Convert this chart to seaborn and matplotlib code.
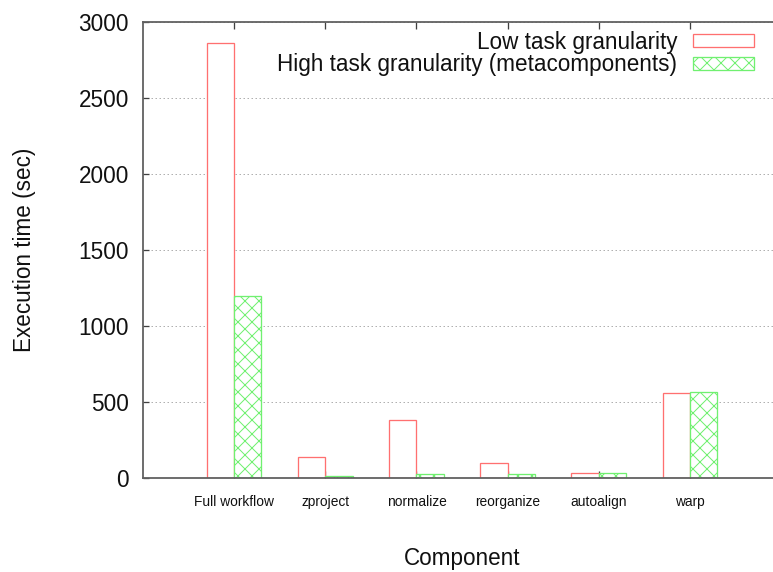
import matplotlib
matplotlib.use("Agg")
import matplotlib.pyplot as plt
import seaborn as sns
import pandas as pd

components = ["Full workflow", "zproject", "normalize", "reorganize", "autoalign", "warp"]
low_gran = [2865, 137, 381, 97, 33, 559]
high_gran = [1200, 15, 29, 29, 35, 568]
series_names = ["Low task granularity", "High task granularity (metacomponents)"]
yticks = [0, 500, 1000, 1500, 2000, 2500, 3000]

df = pd.DataFrame({
    "Component": components * 2,
    "Time": low_gran + high_gran,
    "Series": [series_names[0]] * len(components) + [series_names[1]] * len(components),
})

sns.set_theme(style="white")
plt.rcParams["font.family"] = ["Liberation Sans", "DejaVu Sans"]

W, H, DPI = 774, 572, 84.0
def pt(px):
    return px * 72.0 / DPI

plt.rcParams["hatch.linewidth"] = pt(1.0)

fig = plt.figure(figsize=(W / DPI, H / DPI), dpi=DPI)
ax_left, ax_right, ax_top, ax_bot = 143, 781, 22, 478
ax = fig.add_axes([ax_left / W, 1 - ax_bot / H, (ax_right - ax_left) / W, (ax_bot - ax_top) / H])

red = "#ff7070"
green = "#70f070"
sns.barplot(data=df, x="Component", y="Time", hue="Series", order=components,
            hue_order=series_names, width=0.6, ax=ax, errorbar=None,
            palette=[red, green], legend=False)

for cont, col, hatch in zip(ax.containers, [red, green], [None, "xx"]):
    for p in cont:
        p.set_facecolor("white")
        p.set_edgecolor(col)
        p.set_linewidth(pt(1.3))
        p.set_zorder(3)
        if hatch:
            p.set_hatch(hatch)

ax.set_xlim(-1, 6)
ax.set_ylim(0, 3000)
ax.set_yticks(yticks)
ax.set_yticklabels([str(v) for v in yticks])
ax.yaxis.grid(True, color="#b0b0b0", linestyle=(0, (1.5, 2.5)), linewidth=pt(1.0))
ax.set_axisbelow(True)

for s in ax.spines.values():
    s.set_visible(True)
    s.set_color("#606060")
    s.set_linewidth(pt(1.8))
    s.set_zorder(4)

ax.tick_params(axis="y", direction="in", length=pt(6), width=pt(1.3), color="#404040",
               labelsize=pt(22.5), pad=pt(14), right=True, left=True, labelcolor="#111111")
ax.tick_params(axis="x", direction="in", length=pt(7), width=pt(1.3), color="#404040",
               labelsize=pt(13.8), pad=pt(17), top=True, bottom=True, labelcolor="#111111")

ax.set_xlabel("Component", fontsize=pt(22.5), labelpad=pt(38), color="#111111")
ax.set_ylabel("Execution time (sec)", fontsize=pt(22.5), labelpad=pt(43), color="#111111")

from matplotlib.patches import Patch
handles = [Patch(facecolor="white", edgecolor=red, linewidth=pt(1.3)),
           Patch(facecolor="white", edgecolor=green, hatch="xx", linewidth=pt(1.3))]
leg = fig.legend(handles, series_names, loc="upper right",
                 bbox_to_anchor=(754 / W, 1 - 30.5 / H), bbox_transform=fig.transFigure,
                 frameon=False, markerfirst=False, fontsize=pt(22.5),
                 handlelength=2.7, handleheight=0.45, handletextpad=0.7,
                 labelspacing=0.0, borderpad=0, borderaxespad=0)
for t in leg.get_texts():
    t.set_color("#111111")

fig.savefig("out.png", dpi=DPI, facecolor="white")
